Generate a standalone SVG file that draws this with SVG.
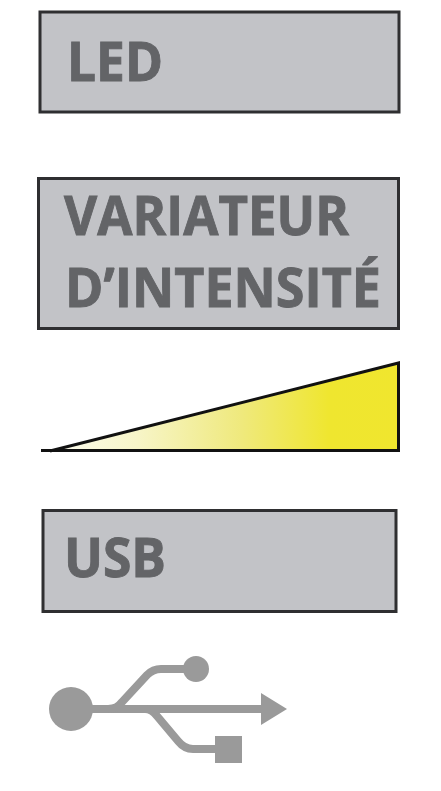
<svg xmlns="http://www.w3.org/2000/svg" width="441" height="791" viewBox="0 0 441 791">
<style>
.box{fill:#c2c3c7;stroke:#2f2f31;stroke-width:3}
.t{font-family:"Open Sans","Noto Sans",sans-serif;font-weight:700;fill:#636467;stroke:#636467;stroke-width:.9;font-size:53px}
.u{stroke:#9a9a9a;fill:none;stroke-width:8}
.f{fill:#9a9a9a}
</style>
<defs><linearGradient id="g" x1="50" x2="399" y1="0" y2="0" gradientUnits="userSpaceOnUse">
<stop offset="0" stop-color="#fbfbf0"/><stop offset="0.25" stop-color="#f7f5c8"/><stop offset="0.55" stop-color="#efe97c"/><stop offset="0.8" stop-color="#efe62f"/><stop offset="1" stop-color="#f0e62e"/></linearGradient></defs>
<rect width="441" height="791" fill="#fff"/>
<g id="led"><rect class="box" x="40" y="12" width="359" height="100"/><text class="t" x="67" y="81" textLength="96" lengthAdjust="spacingAndGlyphs">LED</text></g>
<g id="variateur"><rect class="box" x="38.500" y="178.500" width="360" height="150"/><text class="t" x="64" y="235" textLength="285" lengthAdjust="spacingAndGlyphs">VARIATEUR</text><text class="t" x="65" y="307" textLength="316" lengthAdjust="spacingAndGlyphs">D’INTENSITÉ</text></g>
<g id="rampe"><path d="M52 449.500L398 363V449.500Z" fill="url(#g)"/><path d="M41 450.500H398.500V363L50 451" fill="none" stroke="#111" stroke-width="3"/></g>
<g id="usb"><rect class="box" x="43" y="510.500" width="353" height="101"/><text class="t" x="64" y="577" textLength="102" lengthAdjust="spacingAndGlyphs">USB</text></g>
<g id="usb-icon">
<circle class="f" cx="71" cy="709" r="22"/><circle class="f" cx="196" cy="669" r="13"/>
<rect class="f" x="215" y="736" width="27" height="27"/>
<path class="f" d="M261 693L287 709L261 725Z"/>
<path class="u" d="M90 709H264" stroke-width="9"/>
<path class="u" d="M108 709C115 709 118 707 122 702L147 675C151 671 155 669 161 669H188"/>
<path class="u" d="M145 709C150 709 153 711 157 716L178 741C182 746 186 749 193 749H218"/>
</g>
</svg>
